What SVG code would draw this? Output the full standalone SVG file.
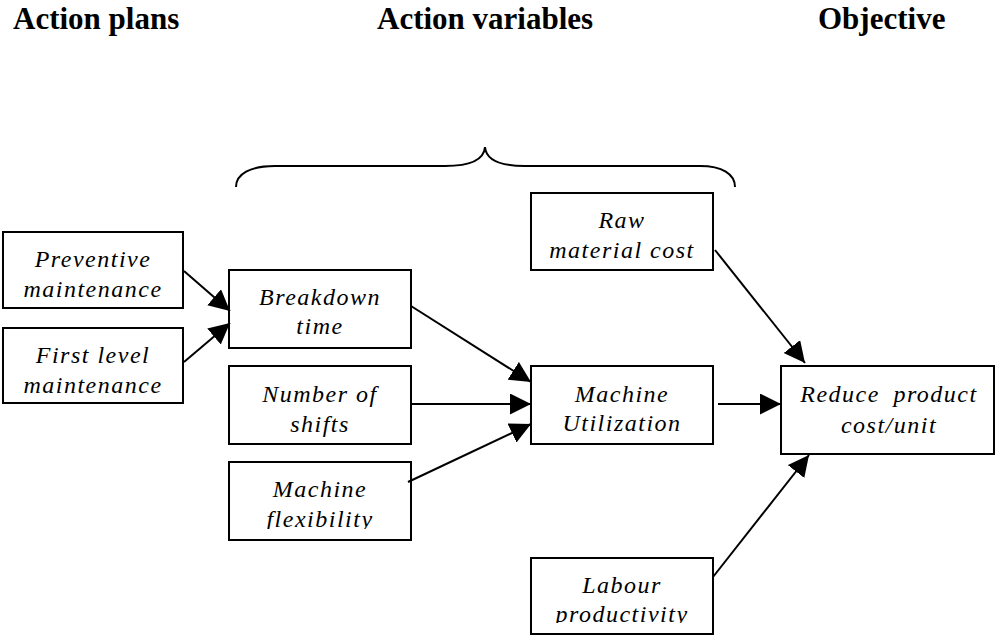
<svg xmlns="http://www.w3.org/2000/svg" width="996" height="636" viewBox="0 0 996 636">
<style>
.hd{font-family:"Liberation Serif","Times New Roman",serif;font-weight:bold;font-size:31px;fill:#000}
.box{fill:#fff;stroke:#000;stroke-width:2}
.lb{font-family:"Liberation Serif","Times New Roman",serif;font-style:italic;font-size:24px;letter-spacing:1.5px;fill:#000;text-anchor:middle}
.cn{stroke:#000;stroke-width:2;fill:none}
</style>
<defs>
<marker id="ah" markerUnits="userSpaceOnUse" markerWidth="22" markerHeight="22" refX="21" refY="10.5" orient="auto" viewBox="0 0 22 22">
<path d="M0,0 L21,10.5 L0,21 z" fill="#000"/>
</marker>
<clipPath id="cFlex"><rect x="228" y="462" width="183" height="67"/></clipPath>
<clipPath id="cLab"><rect x="530" y="558" width="183" height="65"/></clipPath>
</defs>

<g id="headers">
<text class="hd" x="13" y="29">Action plans</text>
<text class="hd" x="377" y="29">Action variables</text>
<text class="hd" x="818" y="29">Objective</text>
</g>

<g id="brace">
<path class="cn" d="M236,187 C236,174 250,166 275,166 L445,166 C470,166 484,160 485,147 C486,160 500,166 525,166 L700,166 C722,166 735,174 735,187"/>
</g>

<g id="preventive">
<rect class="box" x="3" y="232" width="180" height="76"/>
<text class="lb" x="93" y="267">Preventive</text>
<text class="lb" x="93" y="297">maintenance</text>
</g>
<g id="firstlevel">
<rect class="box" x="3" y="328" width="180" height="75"/>
<text class="lb" x="93" y="363">First level</text>
<text class="lb" x="93" y="393">maintenance</text>
</g>
<g id="breakdown">
<rect class="box" x="229" y="270" width="182" height="78"/>
<text class="lb" x="320" y="305">Breakdown</text>
<text class="lb" x="320" y="334">time</text>
</g>
<g id="shifts">
<rect class="box" x="229" y="366" width="182" height="78"/>
<text class="lb" x="320" y="402">Number of</text>
<text class="lb" x="320" y="432">shifts</text>
</g>
<g id="flexibility">
<rect class="box" x="229" y="462" width="182" height="78"/>
<text class="lb" x="320" y="497">Machine</text>
<text class="lb" x="320" y="527" clip-path="url(#cFlex)">flexibility</text>
</g>
<g id="rawmaterial">
<rect class="box" x="531" y="193" width="182" height="77"/>
<text class="lb" x="622" y="228">Raw</text>
<text class="lb" x="622" y="258">material cost</text>
</g>
<g id="utilization">
<rect class="box" x="531" y="366" width="182" height="78"/>
<text class="lb" x="622" y="402">Machine</text>
<text class="lb" x="622" y="431">Utilization</text>
</g>
<g id="labour">
<rect class="box" x="531" y="558" width="182" height="76"/>
<text class="lb" x="622" y="593">Labour</text>
<text class="lb" x="622" y="622" clip-path="url(#cLab)">productivity</text>
</g>
<g id="reduce">
<rect class="box" x="781" y="366" width="213" height="88"/>
<text class="lb" x="889" y="402" word-spacing="6">Reduce product</text>
<text class="lb" x="889" y="433">cost/unit</text>
</g>

<g id="connectors">
<line class="cn" x1="184" y1="271" x2="230" y2="311" marker-end="url(#ah)"/>
<line class="cn" x1="184" y1="362" x2="230" y2="323" marker-end="url(#ah)"/>
<line class="cn" x1="411" y1="306" x2="531" y2="382" marker-end="url(#ah)"/>
<line class="cn" x1="411" y1="404" x2="531" y2="404" marker-end="url(#ah)"/>
<line class="cn" x1="408" y1="482" x2="531" y2="424" marker-end="url(#ah)"/>
<line class="cn" x1="718" y1="404" x2="781" y2="404" marker-end="url(#ah)"/>
<line class="cn" x1="715" y1="250" x2="805" y2="363" marker-end="url(#ah)"/>
<line class="cn" x1="713" y1="577" x2="809" y2="455" marker-end="url(#ah)"/>
</g>
</svg>
